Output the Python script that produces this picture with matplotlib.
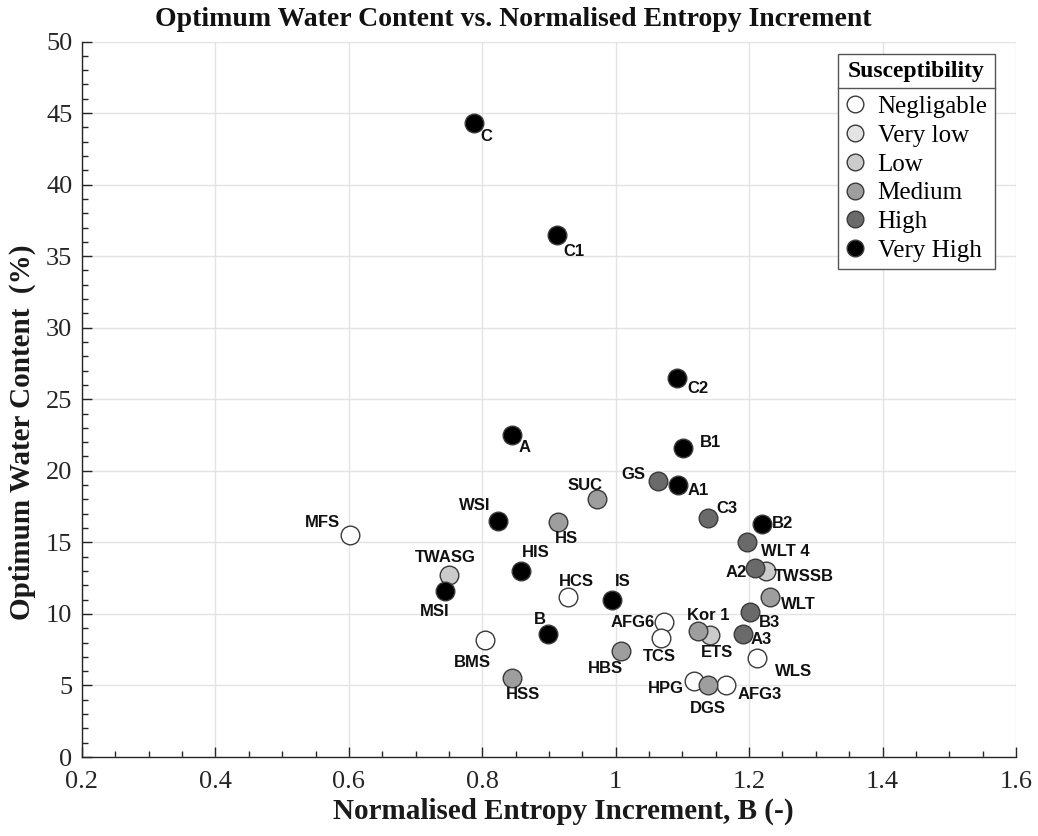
import matplotlib
matplotlib.use("Agg")
import matplotlib.pyplot as plt
from matplotlib.lines import Line2D
from matplotlib.ticker import MultipleLocator

# ---- data -----------------------------------------------------------------
soil = ["C", "C1", "C2", "A", "B1", "GS", "A1", "SUC", "WSI", "HS", "MFS",
        "C3", "B2", "WLT 4", "TWASG", "HIS", "A2", "TWSSB", "MSI", "HCS", "IS",
        "WLT", "B3", "AFG6", "Kor 1", "A3", "B", "ETS", "BMS", "TCS", "HBS",
        "WLS", "HSS", "HPG", "DGS", "AFG3"]
entropy_b = [0.787, 0.912, 1.092, 0.844, 1.101, 1.063, 1.093, 0.972, 0.823, 0.914, 0.602,
             1.138, 1.219, 1.197, 0.750, 0.858, 1.209, 1.225, 0.744, 0.929, 0.995,
             1.232, 1.202, 1.073, 1.123, 1.191, 0.899, 1.142, 0.804, 1.068, 1.008,
             1.212, 0.845, 1.118, 1.138, 1.166]
water_content = [44.3, 36.5, 26.5, 22.5, 21.6, 19.3, 19.0, 18.0, 16.5, 16.4, 15.5,
                 16.7, 16.3, 15.0, 12.7, 13.0, 13.2, 13.0, 11.6, 11.2, 11.0,
                 11.2, 10.1, 9.4, 8.8, 8.6, 8.6, 8.5, 8.2, 8.3, 7.4,
                 6.9, 5.5, 5.3, 5.0, 5.0]
susceptibility = ["Very High", "Very High", "Very High", "Very High", "Very High", "High",
                  "Very High", "Medium", "Very High", "Medium", "Negligable",
                  "High", "Very High", "High", "Low", "Very High", "High", "Low",
                  "Very High", "Negligable", "Very High",
                  "Medium", "High", "Negligable", "Medium", "High", "Very High", "Low",
                  "Negligable", "Negligable", "Medium",
                  "Negligable", "Medium", "Negligable", "Medium", "Negligable"]

levels = ["Negligable", "Very low", "Low", "Medium", "High", "Very High"]
level_colors = {"Negligable": "#ffffff", "Very low": "#e4e4e4", "Low": "#cbcbcb",
                "Medium": "#9e9e9e", "High": "#6a6a6a", "Very High": "#000000"}

# label placement: (dx right, dy down) in pixels from the marker centre
label_offset = {
    "C": (13, 13), "C1": (17, 17), "C2": (21, 11), "A": (13, 12), "B1": (27, -5),
    "GS": (-24, -6), "A1": (20, 5), "SUC": (-12, -14), "WSI": (-23, -15),
    "HS": (8, 16), "MFS": (-28, -13), "C3": (19, -10), "B2": (21, 0),
    "WLT 4": (38, 9), "TWASG": (-4, -18), "HIS": (15, -18), "A2": (-19, 4),
    "TWSSB": (38, 6), "MSI": (-10, 20), "HCS": (8, -15), "IS": (10, -18),
    "WLT": (28, 8), "B3": (19, 10), "AFG6": (-32, 0), "Kor 1": (10, -16),
    "A3": (18, 6), "B": (-8, -14), "ETS": (7, 17), "BMS": (-13, 23),
    "TCS": (-2, 18), "HBS": (-16, 17), "WLS": (36, 13), "HSS": (11, 16),
    "HPG": (-29, 7), "DGS": (0, 23), "AFG3": (33, 9),
}

# ---- figure -----------------------------------------------------------------
W, H, DPI = 1038, 836, 100
fig = plt.figure(figsize=(W / DPI, H / DPI), dpi=DPI)
ax_left, ax_right, ax_top, ax_bottom = 82, 1016, 41.5, 757
ax = fig.add_axes([ax_left / W, (H - ax_bottom) / H,
                   (ax_right - ax_left) / W, (ax_bottom - ax_top) / H])

serif = ["Liberation Serif", "DejaVu Serif"]
sans = ["Liberation Sans", "DejaVu Sans"]
axis_col = "#262626"

for lvl in levels:
    idx = [i for i, s in enumerate(susceptibility) if s == lvl]
    if not idx:
        continue
    ax.scatter([entropy_b[i] for i in idx], [water_content[i] for i in idx],
               s=180, c=level_colors[lvl], edgecolors="#3a3a3a", linewidths=1.0,
               zorder=3)

for name, xv, yv in zip(soil, entropy_b, water_content):
    dx, dy = label_offset[name]
    ax.annotate(name, (xv, yv), xytext=(dx, -dy), textcoords="offset pixels",
                ha="center", va="center", fontsize=12, fontweight="bold",
                family=sans, color="#111111", zorder=4)

ax.set_xlim(0.2, 1.6)
ax.set_ylim(0, 50)
ax.xaxis.set_minor_locator(MultipleLocator(0.05))
ax.yaxis.set_major_locator(MultipleLocator(5))
ax.yaxis.set_minor_locator(MultipleLocator(1))
ax.set_xticks([0.2, 0.4, 0.6, 0.8, 1.0, 1.2, 1.4, 1.6])
ax.set_xticklabels(["0.2", "0.4", "0.6", "0.8", "1", "1.2", "1.4", "1.6"])

ax.grid(True, which="major", color="#e3e3e3", linewidth=1.0, zorder=0)
ax.set_axisbelow(True)
for side in ("top", "right"):
    ax.spines[side].set_visible(False)
for side in ("left", "bottom"):
    ax.spines[side].set_color(axis_col)
    ax.spines[side].set_linewidth(1.0)
ax.tick_params(which="both", direction="in", colors=axis_col, width=1.0)
ax.tick_params(which="major", length=7, labelsize=19)
ax.tick_params(axis="x", which="major", pad=10)
ax.tick_params(axis="y", which="major", pad=7)
ax.tick_params(which="minor", length=4)
for lab in ax.get_xticklabels() + ax.get_yticklabels():
    lab.set_family(serif)

ax.set_xlabel("Normalised Entropy Increment, B (-)", fontsize=21,
              fontweight="bold", family=serif, color="#1a1a1a")
ax.set_ylabel("Optimum Water Content  (%)", fontsize=21,
              fontweight="bold", family=serif, color="#1a1a1a")
ax.xaxis.set_label_coords((563 - ax_left) / (ax_right - ax_left),
                          (ax_bottom - 811) / (ax_bottom - ax_top))
ax.yaxis.set_label_coords((22 - ax_left) / (ax_right - ax_left),
                          (ax_bottom - 432) / (ax_bottom - ax_top))
ax.xaxis.label.set_va("center")
ax.yaxis.label.set_va("center")
fig.text(513 / W, 1 - 19 / H,
         "Optimum Water Content vs. Normalised Entropy Increment",
         ha="center", va="center", fontsize=20, fontweight="bold",
         family=serif, color="#111111")

# ---- legend ---------------------------------------------------------------
handles = [Line2D([], [], linestyle="none", marker="o", markersize=12,
                  markerfacecolor=level_colors[l], markeredgecolor="#3a3a3a",
                  markeredgewidth=1.0) for l in levels]
leg_fs = 18
leg_spacing = 0.25
leg = ax.legend(handles, levels, title="Susceptibility", loc="upper right",
                bbox_to_anchor=((995 - ax_left) / (ax_right - ax_left),
                                (ax_bottom - 54) / (ax_bottom - ax_top)),
                frameon=True, fancybox=False, edgecolor="#555555",
                framealpha=1.0, borderpad=0.3, labelspacing=leg_spacing,
                handlelength=0.8, handletextpad=0.5, borderaxespad=0,
                prop={"family": serif, "size": leg_fs},
                title_fontproperties={"family": serif, "size": 17,
                                      "weight": "bold"})
leg.get_frame().set_linewidth(1.0)
# a little extra room between the title and the entries, for the rule line
leg._legend_box.sep = leg_spacing * leg_fs + 5

fig.canvas.draw()
tb = leg.get_title().get_window_extent()
fb = leg.get_frame().get_window_extent()
ysep = tb.y0 - 5
fig.add_artist(Line2D([fb.x0, fb.x1], [ysep, ysep], transform=None,
                      color="#555555", linewidth=1.0, zorder=10))

fig.savefig("out.png", dpi=DPI)
